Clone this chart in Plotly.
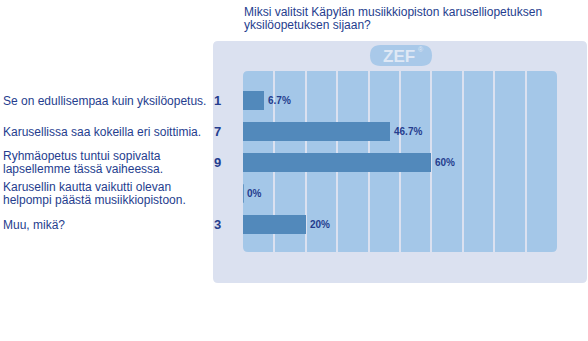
import plotly.graph_objects as go

title_lines = ["Miksi valitsit Käpylän musiikkiopiston karuselliopetuksen",
               "yksilöopetuksen sijaan?"]
categories = [
    "Se on edullisempaa kuin yksilöopetus.",
    "Karusellissa saa kokeilla eri soittimia.",
    "Ryhmäopetus tuntui sopivalta<br>lapsellemme tässä vaiheessa.",
    "Karusellin kautta vaikutti olevan<br>helpompi päästä musiikkiopistoon.",
    "Muu, mikä?",
]
counts = [1, 7, 9, 0, 3]
percents = [6.7, 46.7, 60, 0, 20]
pct_labels = ["6.7%", "46.7%", "60%", "0%", "20%"]

W, H = 588, 341
L, R, T, B = 243, 31, 71, 89
PW, PH = W - L - R, H - T - B

TXT = "#253d8e"
BAR = "#5289bb"
INNER = "#a4c7e8"
OUTER = "#dbe1f0"


def px_x(px):
    return (px - L) / PW


def px_y(py):
    return (H - B - py) / PH


def rrect(x0, y0, x1, y1, r):
    X0, X1 = px_x(x0), px_x(x1)
    Y0, Y1 = px_y(y0), px_y(y1)
    rx, ry = r / PW, r / PH
    return (f"M {X0+rx},{Y0} L {X1-rx},{Y0} Q {X1},{Y0} {X1},{Y0-ry} "
            f"L {X1},{Y1+ry} Q {X1},{Y1} {X1-rx},{Y1} "
            f"L {X0+rx},{Y1} Q {X0},{Y1} {X0},{Y1+ry} "
            f"L {X0},{Y0-ry} Q {X0},{Y0} {X0+rx},{Y0} Z")


fig = go.Figure()
fig.add_trace(go.Bar(
    x=percents, y=list(range(len(categories))), orientation="h",
    marker=dict(color=BAR, line=dict(width=0)), width=0.613,
    hoverinfo="skip",
))

shapes = [
    dict(type="path", xref="paper", yref="paper", layer="below",
         path=rrect(213, 41, 587, 283, 5), fillcolor=OUTER, line=dict(width=0)),
    dict(type="path", xref="paper", yref="paper", layer="below",
         path=rrect(243, 71, 557, 252, 5), fillcolor=INNER, line=dict(width=0)),
    dict(type="path", xref="paper", yref="paper", layer="below",
         path=rrect(370, 45, 432, 66, 10.5), fillcolor="#a9c9e9", line=dict(width=0)),
]
# thin stub for zero-valued bars
for i, v in enumerate(percents):
    if v == 0:
        shapes.append(dict(type="line", xref="x", yref="y", x0=0, x1=0,
                           y0=i - 0.3, y1=i + 0.3, line=dict(color=BAR, width=1.5)))

ann = []
font = "Liberation Sans, Arial, sans-serif"
for i, lab in enumerate(categories):
    lines = lab.split("<br>")
    n = len(lines)
    for j, ln in enumerate(lines):
        shift = (n - 1) * 6.2 - j * 12.4
        ann.append(dict(x=px_x(1), xref="paper", y=i, yref="y", text=ln,
                        xanchor="left", yanchor="middle", showarrow=False,
                        yshift=shift, font=dict(family=font, size=12, color=TXT)))
    if counts[i]:
        ann.append(dict(x=px_x(223), xref="paper", y=i, yref="y",
                        text="<b>" + str(counts[i]) + "</b>", xanchor="right",
                        yanchor="middle", showarrow=False,
                        font=dict(family=font, size=13, color=TXT)))
    ann.append(dict(x=percents[i], xref="x", y=i, yref="y", text="<b>" + pct_labels[i] + "</b>",
                    xanchor="left", yanchor="middle", showarrow=False, xshift=2,
                    font=dict(family=font, size=10, color=TXT)))

for j, ln in enumerate(title_lines):
    ann.append(dict(x=px_x(242), xref="paper", y=px_y(12 + j * 12.6), yref="paper",
                    text=ln, xanchor="left", yanchor="middle", showarrow=False,
                    font=dict(family=font, size=12, color=TXT)))

ann.append(dict(x=px_x(399), xref="paper", y=px_y(56), yref="paper",
                text="<b>ZEF</b>", xanchor="center", yanchor="middle", showarrow=False,
                font=dict(family=font, size=17, color="#dfe8f5")))
ann.append(dict(x=px_x(421), xref="paper", y=px_y(49), yref="paper",
                text="®", xanchor="center", yanchor="middle", showarrow=False,
                font=dict(family=font, size=7, color="#dfe8f5")))

fig.update_layout(
    width=W, height=H, margin=dict(l=L, r=R, t=T, b=B, pad=0),
    paper_bgcolor="white", plot_bgcolor="rgba(0,0,0,0)",
    showlegend=False, shapes=shapes, annotations=ann, bargap=0,
    xaxis=dict(range=[0, 100], tickvals=[10, 20, 30, 40, 50, 60, 70, 80, 90],
               showticklabels=False, showgrid=True, gridcolor=OUTER, gridwidth=2,
               zeroline=False, showline=False, ticks="", fixedrange=True),
    yaxis=dict(range=[4.887, -0.952], showticklabels=False, showgrid=False,
               zeroline=False, showline=False, ticks="", fixedrange=True),
)

fig.write_html("out.html", config={"displayModeBar": False})
